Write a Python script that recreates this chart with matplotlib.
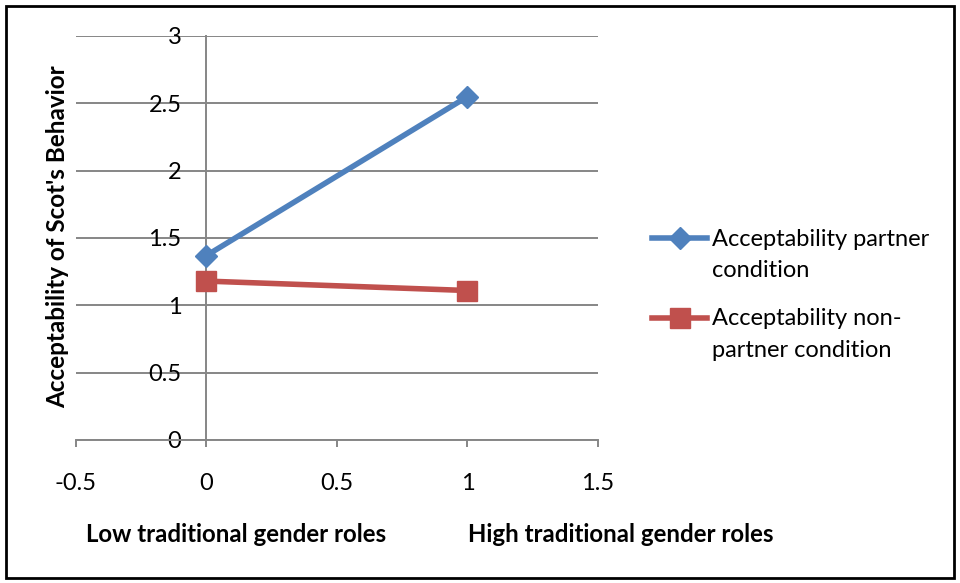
import matplotlib
matplotlib.use("Agg")
import matplotlib.pyplot as plt
from matplotlib.lines import Line2D
from matplotlib.patches import Rectangle
from matplotlib.legend_handler import HandlerLine2D

plt.rcParams['font.family'] = ['Lato', 'DejaVu Sans']

# data
x_vals = [0, 1]
partner = [1.37, 2.55]
non_partner = [1.18, 1.11]
series_names = ['Acceptability partner\ncondition', 'Acceptability non-\npartner condition']
group_labels = ['Low traditional gender roles', 'High traditional gender roles']
x_ticks = [-0.5, 0, 0.5, 1, 1.5]
y_ticks = [0, 0.5, 1, 1.5, 2, 2.5, 3]

blue = '#4F81BD'
red = '#C0504D'
grid_col = '#868686'
fs = 17


class FirstLineHandler(HandlerLine2D):
    # legend marker sits next to the first line of a two-line label
    def create_artists(self, legend, orig_handle, xdescent, ydescent,
                       width, height, fontsize, trans):
        return super().create_artists(legend, orig_handle, xdescent,
                                      ydescent - 1.45 * fontsize, width,
                                      height, fontsize, trans)


fig = plt.figure(figsize=(9.6, 5.83), dpi=100)
ax = fig.add_axes([76 / 960, 1 - 440 / 583, 522 / 960, 404 / 583])

l1, = ax.plot(x_vals, partner, color=blue, lw=4, marker='D', ms=11,
              label=series_names[0], zorder=3)
l2, = ax.plot(x_vals, non_partner, color=red, lw=4, marker='s', ms=14,
              label=series_names[1], zorder=3)

ax.set_xlim(-0.5, 1.5)
ax.set_ylim(0, 3)
ax.set_xticks(x_ticks)
ax.set_xticklabels(['-0.5', '0', '0.5', '1', '1.5'])
ax.set_yticks(y_ticks)
ax.set_yticklabels(['0', '0.5', '1', '1.5', '2', '2.5', '3'])
ax.yaxis.grid(True, color=grid_col, lw=1.4)
ax.set_axisbelow(True)

for s in ['top', 'right']:
    ax.spines[s].set_visible(False)
ax.spines['left'].set_position(('data', 0))
for s in ['left', 'bottom']:
    ax.spines[s].set_color(grid_col)
    ax.spines[s].set_linewidth(1.4)
ax.tick_params(axis='x', direction='out', length=5, width=1.4, color=grid_col,
               pad=19, labelsize=fs)
ax.tick_params(axis='y', length=0, pad=18, labelsize=fs)

fig.text(58 / 960, 1 - 237 / 583, "Acceptability of Scot's Behavior",
         fontsize=17.5, fontweight='bold', rotation=90, ha='center', va='center')

fig.text(236 / 960, 1 - 535 / 583, group_labels[0], fontsize=17.3,
         fontweight='bold', ha='center', va='center')
fig.text(621 / 960, 1 - 535 / 583, group_labels[1], fontsize=17.3,
         fontweight='bold', ha='center', va='center')

leg = fig.legend(handles=[l1, l2], loc='upper left',
                 bbox_to_anchor=(652 / 960, 1 - 229 / 583), frameon=False,
                 fontsize=fs, handlelength=2.35, handletextpad=0.18,
                 labelspacing=1.15, borderaxespad=0, borderpad=0,
                 handler_map={Line2D: FirstLineHandler()})
for t in leg.get_texts():
    t.set_linespacing(1.6)

fig.patches.append(Rectangle((6 / 960, 5 / 583), 948 / 960, 572 / 583,
                             transform=fig.transFigure, fill=False,
                             edgecolor='black', lw=2))

fig.savefig('out.png', dpi=100)
